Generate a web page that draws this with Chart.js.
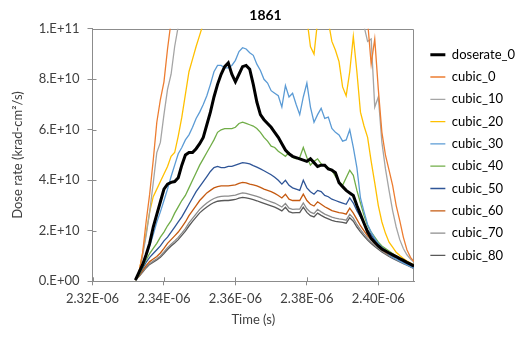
<!DOCTYPE html>
<html>
<head>
<meta charset="utf-8">
<script src="https://cdn.jsdelivr.net/npm/chart.js@4.4.1/dist/chart.umd.min.js"></script>
<style>
  html, body { margin: 0; padding: 0; background: #fff; }
  #chart { display: block; }
</style>
</head>
<body>
<canvas id="chart" width="526" height="337"></canvas>
<script>
// time in microseconds, one sample per ns
const timeUs = [
  2.332, 2.333, 2.334, 2.335, 2.336, 2.337, 2.338, 2.339, 2.340, 2.341,
  2.342, 2.343, 2.344, 2.345, 2.346, 2.347, 2.348, 2.349, 2.350, 2.351,
  2.352, 2.353, 2.354, 2.355, 2.356, 2.357, 2.358, 2.359, 2.360, 2.361,
  2.362, 2.363, 2.364, 2.365, 2.366, 2.367, 2.368, 2.369, 2.370, 2.371,
  2.372, 2.373, 2.374, 2.375, 2.376, 2.377, 2.378, 2.379, 2.380, 2.381,
  2.382, 2.383, 2.384, 2.385, 2.386, 2.387, 2.388, 2.389, 2.390, 2.391,
  2.392, 2.393, 2.394, 2.395, 2.396, 2.397, 2.398, 2.399, 2.400, 2.401,
  2.402, 2.403, 2.404, 2.405, 2.406, 2.407, 2.408, 2.409, 2.410,
];

// dose rate, in units of 1E+10 krad-cm2/s
const doserate0 = [
  0.05, 0.35, 0.65, 1.05, 1.5, 2.15, 2.65, 3.15, 3.65, 3.85,
  3.92, 3.95, 4.1, 4.6, 5.0, 5.1, 5.1, 5.25, 5.45, 5.7,
  6.2, 6.7, 7.3, 7.8, 8.2, 8.5, 8.65, 8.2, 7.9, 8.2,
  8.5, 8.55, 8.4, 7.8, 7.1, 6.6, 6.4, 6.25, 6.1, 5.9,
  5.7, 5.45, 5.2, 5.05, 4.95, 4.9, 4.85, 4.8, 4.75, 4.85,
  4.7, 4.55, 4.6, 4.6, 4.45, 4.4, 4.3, 3.9, 3.75, 3.6,
  3.5, 3.4, 3.0, 2.65, 2.3, 1.95, 1.7, 1.55, 1.4, 1.28,
  1.2, 1.12, 1.05, 0.98, 0.9, 0.83, 0.75, 0.68, 0.6,
];
const cubic0 = [
  0.05, 0.35, 1.1, 2.35, 3.45, 4.8, 6.3, 7.2, 7.9, 9.2,
  10.3, 11.3, 12.3, 13.3, 14.3, 15.3, 16.2, 17.0, 17.8, 18.5,
  19.1, 19.6, 20.0, 20.3, 20.5, 20.6, 20.6, 20.5, 20.3, 20.0,
  19.7, 19.3, 18.9, 18.5, 18.1, 17.7, 17.3, 16.9, 16.5, 16.1,
  15.7, 15.3, 15.0, 14.7, 14.4, 14.1, 13.8, 13.6, 13.4, 13.2,
  13.0, 12.8, 12.6, 12.4, 12.2, 12.0, 11.8, 11.6, 11.5, 11.4,
  11.3, 11.2, 11.1, 11.0, 10.7, 10.3, 8.6, 9.6, 7.6, 5.9,
  5.0, 4.4, 3.8, 3.0, 2.4, 1.75, 1.25, 0.95, 0.78,
];
const cubic10 = [
  0.05, 0.35, 1.0, 1.8, 2.75, 3.9, 5.1, 5.5, 6.6, 7.6,
  8.2, 9.3, 10.1, 11.0, 11.9, 12.7, 13.4, 14.0, 14.6, 15.1,
  15.6, 16.0, 16.3, 16.5, 16.6, 16.6, 16.5, 16.4, 16.2, 16.0,
  15.7, 15.4, 15.1, 14.8, 14.5, 14.2, 13.9, 13.6, 13.3, 13.0,
  12.8, 12.6, 12.4, 12.2, 12.0, 11.8, 11.7, 11.6, 11.5, 11.4,
  11.3, 11.2, 11.1, 11.0, 10.9, 10.8, 10.8, 10.7, 10.7, 10.6,
  10.6, 10.5, 10.5, 10.4, 10.1, 9.5, 9.6, 6.9, 7.3, 5.5,
  4.45, 3.6, 2.8, 2.15, 1.65, 1.3, 1.05, 0.88, 0.75,
];
const cubic20 = [
  0.05, 0.35, 1.1, 1.9, 2.75, 3.35, 3.65, 3.95, 4.25, 4.55,
  4.95, 5.1, 5.75, 6.5, 7.4, 8.3, 8.8, 9.3, 9.75, 10.2,
  10.7, 11.2, 11.6, 12.0, 12.3, 12.5, 12.6, 12.7, 12.7, 12.6,
  12.5, 12.4, 12.2, 12.0, 11.8, 11.6, 11.4, 11.2, 11.0, 10.9,
  10.8, 10.7, 10.6, 10.6, 10.5, 10.5, 10.4, 10.4, 10.4, 9.3,
  9.0, 10.3, 10.6, 10.8, 10.3, 9.5, 9.15, 8.7, 7.7, 7.35,
  8.3, 9.7, 8.3, 6.7, 6.15, 5.7, 4.75, 3.9, 3.0, 2.35,
  1.9, 1.55, 1.35, 1.15, 1.02, 0.9, 0.8, 0.72, 0.65,
];
const cubic30 = [
  0.05, 0.3, 0.6, 0.95, 1.4, 1.85, 2.35, 2.75, 3.2, 3.65,
  4.15, 4.6, 5.05, 5.3, 5.6, 5.8, 6.1, 6.45, 6.7, 7.0,
  7.35, 7.8, 8.3, 8.55, 8.55, 8.45, 8.45, 8.55, 8.75, 9.1,
  9.25, 9.2, 9.05, 8.95, 8.6, 8.35, 8.0, 7.85, 7.55, 7.45,
  7.35, 6.9, 7.75, 7.3, 7.45, 7.0, 6.6, 7.3, 7.85, 6.9,
  6.3, 6.6, 6.85, 6.45, 6.5, 6.05, 5.9, 5.8, 5.55, 5.6,
  6.0, 5.3, 4.5, 3.3, 2.75, 2.25, 1.95, 1.7, 1.5, 1.35,
  1.2, 1.05, 0.95, 0.88, 0.8, 0.72, 0.65, 0.58, 0.52,
];
const cubic40 = [
  0.05, 0.25, 0.55, 0.85, 1.1, 1.3, 1.5, 1.75, 1.95, 2.2,
  2.4, 2.7, 2.95, 3.2, 3.4, 3.7, 4.0, 4.3, 4.6, 4.85,
  5.1, 5.35, 5.6, 5.9, 6.0, 6.05, 6.05, 6.05, 6.1, 6.25,
  6.3, 6.25, 6.2, 6.15, 6.05, 5.9, 5.7, 5.55, 5.35, 5.3,
  5.15, 5.05, 4.95, 5.1, 4.9, 4.85, 4.9, 5.3, 4.9, 4.6,
  4.75, 4.85, 4.65, 4.55, 4.5, 4.4, 4.15, 3.95, 3.8, 4.1,
  4.4, 4.2, 3.6, 3.1, 2.6, 2.2, 1.95, 1.75, 1.55, 1.4,
  1.3, 1.2, 1.1, 1.0, 0.92, 0.85, 0.78, 0.7, 0.62,
];
const cubic50 = [
  0.05, 0.25, 0.5, 0.75, 0.95, 1.1, 1.25, 1.4, 1.6, 1.75,
  1.95, 2.15, 2.35, 2.55, 2.8, 3.05, 3.3, 3.55, 3.75, 3.95,
  4.15, 4.35, 4.5, 4.55, 4.5, 4.5, 4.55, 4.55, 4.6, 4.65,
  4.7, 4.68, 4.65, 4.58, 4.52, 4.45, 4.38, 4.3, 4.22, 4.12,
  4.0, 3.85, 4.0, 3.8, 3.7, 3.65, 3.6, 4.0, 3.7, 3.55,
  3.45, 3.6, 3.55, 3.4, 3.35, 3.25, 3.2, 3.15, 3.1, 3.05,
  3.3, 3.1, 2.8, 2.55, 2.3, 2.05, 1.85, 1.65, 1.5, 1.36,
  1.24, 1.12, 1.02, 0.93, 0.85, 0.77, 0.7, 0.62, 0.55,
];
const cubic60 = [
  0.05, 0.22, 0.42, 0.62, 0.78, 0.88, 0.98, 1.12, 1.3, 1.5,
  1.65, 1.8, 1.95, 2.15, 2.35, 2.6, 2.8, 3.0, 3.2, 3.35,
  3.5, 3.6, 3.7, 3.75, 3.78, 3.78, 3.78, 3.8, 3.82, 3.88,
  3.92, 3.9, 3.85, 3.82, 3.78, 3.72, 3.65, 3.6, 3.55, 3.48,
  3.4, 3.3, 3.45, 3.25, 3.2, 3.2, 3.2, 3.45, 3.2, 3.05,
  2.98, 3.15, 3.05, 2.95, 2.88, 2.8, 2.76, 2.72, 2.7, 2.66,
  2.9, 2.7, 2.45, 2.2, 2.0, 1.8, 1.65, 1.5, 1.38, 1.25,
  1.15, 1.05, 0.97, 0.9, 0.82, 0.75, 0.68, 0.6, 0.53,
];
const cubic70 = [
  0.05, 0.2, 0.38, 0.56, 0.7, 0.8, 0.89, 1.0, 1.16, 1.33,
  1.47, 1.6, 1.74, 1.91, 2.09, 2.31, 2.49, 2.67, 2.85, 2.98,
  3.1, 3.2, 3.28, 3.33, 3.36, 3.37, 3.37, 3.39, 3.41, 3.46,
  3.5, 3.48, 3.44, 3.4, 3.36, 3.31, 3.25, 3.2, 3.15, 3.1,
  3.02, 2.94, 3.08, 2.9, 2.85, 2.86, 2.86, 3.1, 2.87, 2.74,
  2.68, 2.85, 2.75, 2.66, 2.6, 2.54, 2.5, 2.47, 2.45, 2.42,
  2.65, 2.5, 2.25, 2.05, 1.87, 1.7, 1.56, 1.43, 1.32, 1.2,
  1.1, 1.01, 0.94, 0.87, 0.8, 0.73, 0.66, 0.59, 0.52,
];
const cubic80 = [
  0.05, 0.19, 0.36, 0.53, 0.67, 0.76, 0.85, 0.95, 1.1, 1.26,
  1.4, 1.52, 1.65, 1.82, 1.99, 2.19, 2.37, 2.54, 2.71, 2.83,
  2.94, 3.04, 3.12, 3.17, 3.19, 3.2, 3.2, 3.22, 3.24, 3.29,
  3.32, 3.3, 3.27, 3.23, 3.19, 3.14, 3.09, 3.04, 2.99, 2.94,
  2.87, 2.79, 2.93, 2.76, 2.71, 2.72, 2.72, 2.94, 2.73, 2.6,
  2.55, 2.7, 2.61, 2.53, 2.47, 2.41, 2.37, 2.35, 2.33, 2.3,
  2.52, 2.38, 2.15, 1.96, 1.79, 1.63, 1.5, 1.38, 1.27, 1.16,
  1.07, 0.98, 0.91, 0.84, 0.77, 0.7, 0.64, 0.57, 0.5,
];

const seriesNames = ["doserate_0", "cubic_0", "cubic_10", "cubic_20", "cubic_30",
  "cubic_40", "cubic_50", "cubic_60", "cubic_70", "cubic_80"];
const seriesValues = [doserate0, cubic0, cubic10, cubic20, cubic30,
  cubic40, cubic50, cubic60, cubic70, cubic80];
const seriesColors = ["#000000", "#ED7D31", "#A5A5A5", "#FFC000", "#5B9BD5",
  "#70AD47", "#2F5597", "#C55A11", "#8C8C8C", "#595959"];

const xTicks = [2.32e-6, 2.34e-6, 2.36e-6, 2.38e-6, 2.40e-6];
const yTicks = [0, 2e10, 4e10, 6e10, 8e10, 1e11];

const axisColor = "#8c8c8c";
const textColor = "#404040";
const fontFamily = "Lato, 'Liberation Sans', sans-serif";

// frame on top/right and the inner half of the cross tick marks
const plotFrame = {
  id: "plotFrame",
  beforeDatasetsDraw(chart) {
    const { ctx, chartArea } = chart;
    const xs = chart.scales.x;
    const ys = chart.scales.y;
    ctx.save();
    ctx.strokeStyle = axisColor;
    ctx.lineWidth = 1;
    ctx.beginPath();
    ctx.moveTo(chartArea.left, Math.round(chartArea.top) + 0.5);
    ctx.lineTo(Math.round(chartArea.right) - 0.5, Math.round(chartArea.top) + 0.5);
    ctx.lineTo(Math.round(chartArea.right) - 0.5, chartArea.bottom);
    xTicks.forEach((t) => {
      const px = Math.round(xs.getPixelForValue(t)) + 0.5;
      ctx.moveTo(px, chartArea.bottom);
      ctx.lineTo(px, chartArea.bottom - 4);
    });
    yTicks.forEach((v) => {
      const py = Math.round(ys.getPixelForValue(v)) + 0.5;
      ctx.moveTo(chartArea.left, py);
      ctx.lineTo(chartArea.left + 4, py);
    });
    ctx.stroke();
    ctx.restore();
  },
};

function yLabel(value) {
  if (value === 0) return "0.E+00";
  const e = Math.floor(Math.log10(value) + 1e-9);
  const m = Math.round(value / Math.pow(10, e));
  return m + ".E+" + String(e).padStart(2, "0");
}

function xLabel(value) {
  const e = Math.floor(Math.log10(value) + 1e-9);
  const m = (value / Math.pow(10, e)).toFixed(2);
  return m + "E-" + String(-e).padStart(2, "0");
}

const datasets = seriesNames.map((name, i) => ({
  label: name,
  data: timeUs.map((t, k) => ({ x: t * 1e-6, y: seriesValues[i][k] * 1e10 })),
  borderColor: seriesColors[i],
  backgroundColor: seriesColors[i],
  borderWidth: i === 0 ? 3 : 1.3,
  pointRadius: 0,
  pointStyle: "line",
  pointBorderColor: seriesColors[i],
  pointBorderWidth: i === 0 ? 3 : 1.3,
  tension: 0,
  fill: false,
}));

new Chart(document.getElementById("chart"), {
  type: "line",
  data: { datasets: datasets },
  options: {
    responsive: false,
    animation: false,
    devicePixelRatio: 1,
    layout: { padding: { left: 6, right: 1, top: 0, bottom: 9.5 } },
    plugins: {
      title: {
        display: true,
        text: "1861",
        color: "#000",
        font: { family: fontFamily, size: 14, weight: "bold" },
        padding: { top: 7, bottom: 5 },
      },
      legend: {
        position: "right",
        fullSize: false,
        maxWidth: 130,
        labels: {
          usePointStyle: true,
          pointStyleWidth: 15,
          padding: 9.3,
          color: "#000",
          font: { family: fontFamily, size: 13 },
        },
      },
      tooltip: { enabled: false },
    },
    scales: {
      x: {
        type: "linear",
        min: 2.32e-6,
        max: 2.41e-6,
        afterBuildTicks: (scale) => {
          scale.ticks = xTicks.map((v) => ({ value: v }));
        },
        ticks: {
          callback: xLabel,
          color: textColor,
          padding: 6,
          maxRotation: 0,
          font: { family: fontFamily, size: 13 },
        },
        grid: { drawOnChartArea: false, tickLength: 4, color: axisColor },
        border: { display: true, color: axisColor },
        title: {
          display: true,
          text: "Time (s)",
          color: textColor,
          font: { family: fontFamily, size: 13 },
          padding: { top: -1, bottom: 0 },
        },
      },
      y: {
        min: 0,
        max: 1e11,
        afterBuildTicks: (scale) => {
          scale.ticks = yTicks.map((v) => ({ value: v }));
        },
        ticks: {
          callback: yLabel,
          color: textColor,
          padding: 8,
          font: { family: fontFamily, size: 13 },
        },
        grid: { drawOnChartArea: false, tickLength: 5, color: axisColor },
        border: { display: true, color: axisColor },
        title: {
          display: true,
          text: "Dose rate (krad-cm²/s)",
          color: textColor,
          font: { family: fontFamily, size: 13 },
          padding: { top: 4, bottom: 6 },
        },
      },
      // empty strip between the plot and the legend
      gap: {
        position: "right",
        display: true,
        ticks: { display: false },
        grid: { display: false },
        border: { display: false },
        afterFit: (scale) => {
          scale.width = 7;
        },
      },
    },
  },
  plugins: [plotFrame],
});
</script>
</body>
</html>
